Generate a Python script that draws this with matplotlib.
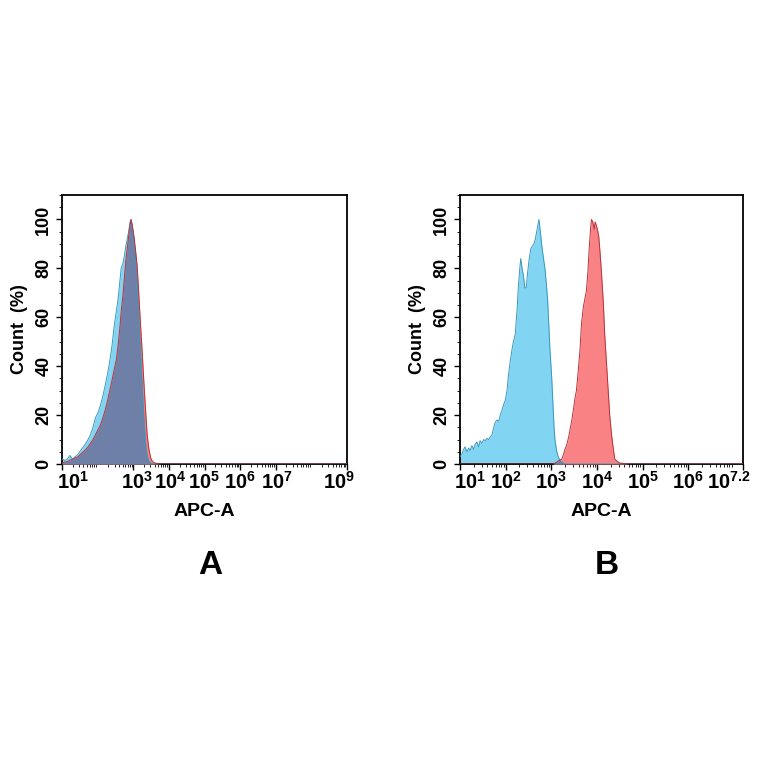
import numpy as np
import matplotlib
matplotlib.use("Agg")
import matplotlib.pyplot as plt
from matplotlib.ticker import FixedLocator, MultipleLocator, NullFormatter

plt.rcParams['font.family'] = ['Liberation Sans', 'DejaVu Sans']
plt.rcParams['mathtext.fontset'] = 'custom'
plt.rcParams['mathtext.rm'] = 'Liberation Sans'
plt.rcParams['mathtext.bf'] = 'Liberation Sans:bold'

# ---------------- Data (log10 of APC-A intensity, Count %) ----------------
a_log = [1.00, 1.08, 1.15, 1.22, 1.30, 1.37, 1.45, 1.52, 1.60, 1.67, 1.73, 1.80,
         1.87, 1.94, 2.01, 2.08, 2.15, 2.21, 2.28, 2.34, 2.40, 2.47, 2.53, 2.57,
         2.62, 2.66, 2.71, 2.75, 2.79, 2.83, 2.87, 2.91, 2.94, 2.98, 3.02, 3.06,
         3.11, 3.15, 3.20, 3.25, 3.30, 3.35, 3.39, 3.44, 3.49, 3.53, 3.58, 3.63,
         3.70, 3.80, 9.00]
a_blue = [2, 1.5, 2, 3.5, 2, 3, 4, 5.5, 7, 8.5, 10, 12,
          15, 19, 21, 24, 28, 32, 37, 42, 48, 57, 63, 67,
          74, 80, 82, 85, 89, 92, 95, 99, 100, 96, 92, 85,
          74, 61, 47, 33, 19, 8, 3.5, 1.2, 0.4, 0.2, 0, 0,
          0, 0, 0]
a_red = [0.5, 0.8, 1, 1.5, 2, 2.5, 3, 4, 5, 6, 7, 8.5,
         10, 12, 14, 16, 19, 22, 26, 30, 34, 39, 43, 48,
         55, 62, 69, 76, 83, 88, 93, 98, 100, 97, 93, 88,
         81, 71, 58, 46, 33, 21, 12, 6, 2.5, 1.2, 0.6, 0.3,
         0.1, 0, 0]

b_log = [1.00, 1.04, 1.08, 1.11, 1.15, 1.19, 1.22, 1.26, 1.30, 1.33, 1.37, 1.41,
         1.44, 1.48, 1.52, 1.55, 1.59, 1.63, 1.66, 1.70, 1.74, 1.77, 1.81, 1.85,
         1.88, 1.92, 1.95, 1.99, 2.03, 2.06, 2.10, 2.14, 2.17, 2.21, 2.25, 2.28,
         2.31, 2.33, 2.36, 2.39, 2.42, 2.45, 2.48, 2.51, 2.55, 2.58, 2.62, 2.65,
         2.69, 2.73, 2.76, 2.80, 2.83, 2.86, 2.89, 2.92, 2.95, 2.97, 3.01, 3.04,
         3.06, 3.08, 3.12, 3.15, 3.19, 3.23, 3.27, 3.30, 3.34, 3.38, 3.42, 3.45,
         3.49, 3.52, 3.55, 3.59, 3.63, 3.66, 3.70, 3.74, 3.77, 3.80, 3.83, 3.86,
         3.88, 3.91, 3.94, 3.96, 3.98, 4.01, 4.04, 4.07, 4.10, 4.14, 4.17, 4.21,
         4.25, 4.28, 4.32, 4.36, 4.39, 4.45, 4.50, 4.60, 4.70, 7.20]
b_blue = [3, 4, 6, 7, 5, 6.5, 5.5, 7.5, 6, 8, 9, 7,
          9.5, 8.5, 10, 9.5, 10.5, 10, 11, 12, 15, 17, 18, 17.5,
          20, 22, 24, 26, 30, 36, 42, 47, 50, 53, 63, 73,
          80, 84, 80, 77, 72, 72, 78, 83, 88, 89, 90, 92,
          96, 100, 95, 88, 84, 80, 74, 67, 55, 47, 35, 23,
          15, 10, 5, 3, 1.5, 0.7, 0.3, 0, 0, 0, 0, 0,
          0, 0, 0, 0, 0, 0, 0, 0, 0, 0, 0, 0,
          0, 0, 0, 0, 0, 0, 0, 0, 0, 0, 0, 0,
          0, 0, 0, 0, 0, 0, 0, 0, 0, 0]
b_red = [0, 0, 0, 0, 0, 0, 0, 0, 0, 0, 0, 0,
         0, 0, 0, 0, 0, 0, 0, 0, 0, 0, 0, 0,
         0, 0, 0, 0, 0, 0, 0, 0, 0, 0, 0, 0,
         0, 0, 0, 0, 0, 0, 0, 0, 0, 0, 0, 0,
         0, 0, 0, 0, 0, 0, 0, 0, 0, 0, 0, 0,
         0.2, 0.3, 0.8, 1.2, 1.6, 2, 4, 6, 8, 11, 15, 18,
         23, 27, 30, 38, 47, 57, 64, 68, 71, 78, 88, 96,
         100, 99, 96, 99, 98, 96, 93, 86, 78, 66, 53, 41,
         29, 20, 12, 6, 2, 1, 0.4, 0.2, 0, 0]

a_ticks = [1, 3, 4, 5, 6, 7, 9]
a_ticklabels = [r'$\mathbf{10^{1}}$', r'$\mathbf{10^{3}}$', r'$\mathbf{10^{4}}$',
                r'$\mathbf{10^{5}}$', r'$\mathbf{10^{6}}$', r'$\mathbf{10^{7}}$',
                r'$\mathbf{10^{9}}$']
b_ticks = [1, 2, 3, 4, 5, 6, 7.2]
b_ticklabels = [r'$\mathbf{10^{1}}$', r'$\mathbf{10^{2}}$', r'$\mathbf{10^{3}}$',
                r'$\mathbf{10^{4}}$', r'$\mathbf{10^{5}}$', r'$\mathbf{10^{6}}$',
                r'$\mathbf{10^{7.2}}$']
y_ticks = [0, 20, 40, 60, 80, 100]

# horizontal nudges of tick labels (pixels) to match the reference placement
a_label_dx = [11, 4, 1, 0, 0, 1, -8]
b_label_dx = [10, 0, 0, 0, 0, 0, -14]

BLUE = '#82d4f3'
BLUE_EDGE = '#3a98bd'
RED = '#f98384'
RED_EDGE = '#b8323a'
OVER = '#6f80a8'

fig = plt.figure(figsize=(7.64, 7.64), dpi=100)

def panel(rect, logs, blue, red, xmax_log, ticks, ticklabels, dxs, letter, letter_x):
    ax = fig.add_axes(rect)
    x = 10 ** np.array(logs)
    b = np.array(blue, float)
    r = np.array(red, float)
    ax.fill_between(x, 0, b, color=BLUE, lw=0, zorder=2)
    ax.fill_between(x, 0, r, color=RED, lw=0, zorder=3)
    ax.fill_between(x, 0, np.minimum(b, r), color=OVER, lw=0, zorder=4)
    ax.plot(x, b, color=BLUE_EDGE, lw=0.7, zorder=5)
    ax.plot(x, r, color=RED_EDGE, lw=0.7, zorder=5)
    ax.set_xscale('log')
    ax.set_xlim(10, 10 ** xmax_log)
    ax.set_ylim(0, 110)
    ax.xaxis.set_major_locator(FixedLocator([10 ** t for t in ticks]))
    ax.xaxis.set_major_formatter(NullFormatter())
    for t, lab, dx in zip(ticks, ticklabels, dxs):
        ax.annotate(lab, xy=(10 ** t, 0), xycoords=('data', 'axes fraction'),
                    xytext=(dx * 0.72, -5), textcoords='offset points',
                    ha='center', va='top', fontsize=14.5, annotation_clip=False)
    minor = []
    for d in range(1, int(np.ceil(xmax_log))):
        for s in range(2, 10):
            v = s * 10 ** d
            if v < 10 ** xmax_log:
                minor.append(v)
    ax.xaxis.set_minor_locator(FixedLocator(minor))
    ax.xaxis.set_minor_formatter(NullFormatter())
    ax.set_yticks(y_ticks)
    ax.set_yticklabels([str(v) for v in y_ticks], rotation=90, va='center',
                       fontsize=13, fontweight='bold')
    ax.yaxis.set_minor_locator(MultipleLocator(5))
    ax.tick_params(axis='both', which='major', direction='out', length=4, width=1,
                   pad=2)
    ax.tick_params(axis='y', which='major', pad=3)
    ax.tick_params(axis='both', which='minor', direction='out', length=2, width=0.6)
    ax.tick_params(axis='x', which='both', top=False)
    ax.tick_params(axis='y', which='both', right=False)
    for sp in ax.spines.values():
        sp.set_linewidth(1.3)
        sp.set_color('black')
    ax.set_xlabel('APC-A', fontsize=14, fontweight='bold')
    ax.xaxis.set_label_coords(0.5, -(512 - 464) / 269, transform=ax.transAxes)
    ax.xaxis.label.set_va('center')
    ax.set_ylabel('Count  (%)', fontsize=13, fontweight='bold', labelpad=5)
    fig.text(letter_x, 1 - 566 / 764, letter, fontsize=24, fontweight='bold',
             ha='center', va='center')
    return ax

panel([62 / 764, 1 - 464 / 764, 285 / 764, 269 / 764], a_log, a_blue, a_red, 9,
      a_ticks, a_ticklabels, a_label_dx, 'A', 210 / 764)
panel([460 / 764, 1 - 464 / 764, 283 / 764, 269 / 764], b_log, b_blue, b_red, 7.2,
      b_ticks, b_ticklabels, b_label_dx, 'B', 607 / 764)

fig.savefig('out.png', dpi=100, facecolor='white')
